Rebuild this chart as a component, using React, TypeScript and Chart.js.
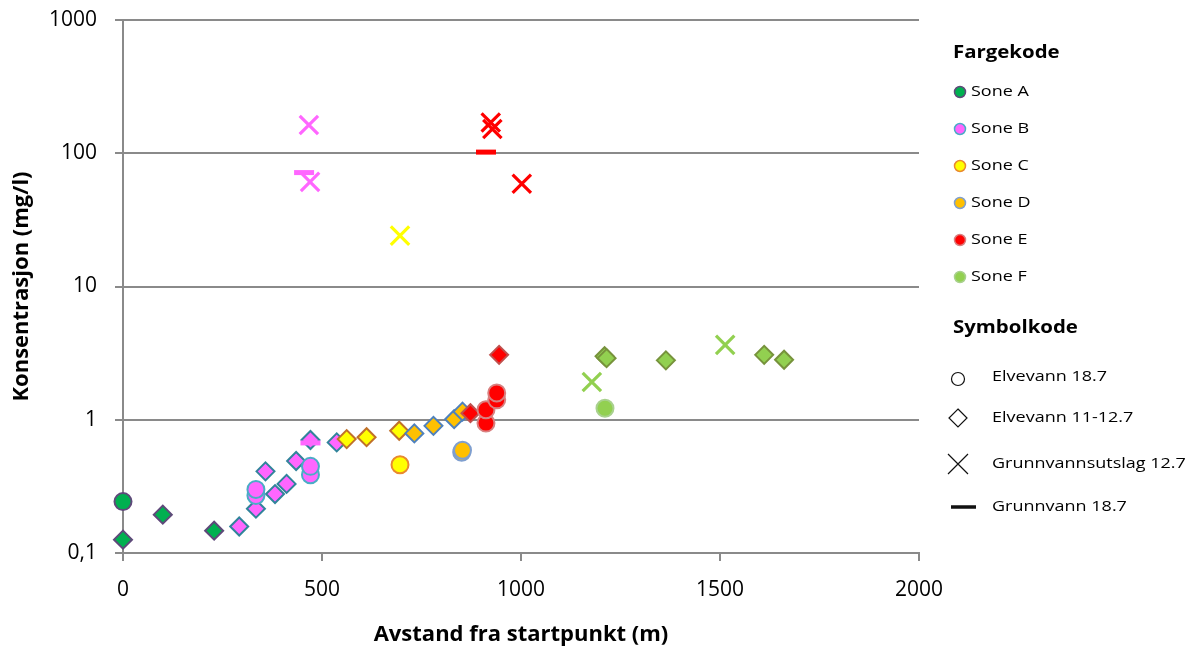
import React, { useEffect, useRef } from 'react';
import { Chart, registerables } from 'chart.js';

Chart.register(...registerables);

// ---- axis ticks ----
const xTickValues = [0, 500, 1000, 1500, 2000];
const xTickLabels = ['0', '500', '1000', '1500', '2000'];
const yTickValues = [0.1, 1, 10, 100, 1000];
const yTickLabels = ['0,1', '1', '10', '100', '1000'];

// ---- zones ----
const zoneNames = ['Sone A', 'Sone B', 'Sone C', 'Sone D', 'Sone E', 'Sone F'];
const zoneFill = ['#00B050', '#FF66FF', '#FFFF00', '#FFC000', '#FF0000', '#92D050'];
const zoneDiamondBorder = ['#5F497A', '#31849B', '#C0712A', '#4F81BD', '#C0504D', '#77933C'];
const zoneCircleBorder = ['#5F497A', '#4BACC6', '#E9892F', '#7F9FCF', '#D98080', '#A9D18E'];

// ---- symbol legend ----
const symbolNames = ['Elvevann 18.7', 'Elvevann 11-12.7', 'Grunnvannsutslag 12.7', 'Grunnvann 18.7'];

// ---- data: Sone A ----
const soneACircleX = [0];
const soneACircleY = [0.243];
const soneADiamondX = [0, 100, 229];
const soneADiamondY = [0.126, 0.194, 0.147];
const soneACrossX: number[] = [];
const soneACrossY: number[] = [];
const soneADashX: number[] = [];
const soneADashY: number[] = [];

// ---- data: Sone B ----
const soneBCircleX = [334, 334, 471, 471];
const soneBCircleY = [0.27, 0.3, 0.387, 0.447];
const soneBDiamondX = [292, 334, 358, 382, 411, 435, 471, 537];
const soneBDiamondY = [0.158, 0.215, 0.41, 0.277, 0.33, 0.49, 0.705, 0.676];
const soneBCrossX = [467, 470];
const soneBCrossY = [163, 61];
const soneBDashX = [455, 471];
const soneBDashY = [71.6, 0.67];

// ---- data: Sone C ----
const soneCCircleX = [696];
const soneCCircleY = [0.46];
const soneCDiamondX = [562, 612, 694];
const soneCDiamondY = [0.716, 0.74, 0.827];
const soneCCrossX = [696];
const soneCCrossY = [24.1];
const soneCDashX: number[] = [];
const soneCDashY: number[] = [];

// ---- data: Sone D ----
const soneDCircleX = [851, 853];
const soneDCircleY = [0.57, 0.59];
const soneDDiamondX = [732, 780, 832, 853];
const soneDDiamondY = [0.79, 0.9, 1.01, 1.15];
const soneDCrossX: number[] = [];
const soneDCrossY: number[] = [];
const soneDDashX: number[] = [];
const soneDDashY: number[] = [];

// ---- data: Sone E ----
const soneECircleX = [912, 912, 939, 939];
const soneECircleY = [0.944, 1.19, 1.41, 1.59];
const soneEDiamondX = [873, 945];
const soneEDiamondY = [1.12, 3.07];
const soneECrossX = [924, 928, 1002];
const soneECrossY = [170, 152, 59];
const soneEDashX = [912];
const soneEDashY = [102];

// ---- data: Sone F ----
const soneFCircleX = [1211];
const soneFCircleY = [1.22];
const soneFDiamondX = [1210, 1215, 1364, 1611, 1661];
const soneFDiamondY = [3.0, 2.9, 2.79, 3.07, 2.82];
const soneFCrossX = [1178, 1513];
const soneFCrossY = [1.92, 3.65];
const soneFDashX: number[] = [];
const soneFDashY: number[] = [];

const zoneData = [
  [soneACircleX, soneACircleY, soneADiamondX, soneADiamondY, soneACrossX, soneACrossY, soneADashX, soneADashY],
  [soneBCircleX, soneBCircleY, soneBDiamondX, soneBDiamondY, soneBCrossX, soneBCrossY, soneBDashX, soneBDashY],
  [soneCCircleX, soneCCircleY, soneCDiamondX, soneCDiamondY, soneCCrossX, soneCCrossY, soneCDashX, soneCDashY],
  [soneDCircleX, soneDCircleY, soneDDiamondX, soneDDiamondY, soneDCrossX, soneDCrossY, soneDDashX, soneDDashY],
  [soneECircleX, soneECircleY, soneEDiamondX, soneEDiamondY, soneECrossX, soneECrossY, soneEDashX, soneEDashY],
  [soneFCircleX, soneFCircleY, soneFDiamondX, soneFDiamondY, soneFCrossX, soneFCrossY, soneFDashX, soneFDashY],
];

const pts = (xs: number[], ys: number[]) => xs.map((x, i) => ({ x, y: ys[i] }));

function buildDatasets() {
  const ds: any[] = [];
  zoneData.forEach((z, i) => {
    const [cx, cy, dx, dy, xx, xy, lx, ly] = z;
    ds.push({
      label: zoneNames[i] + ' diamond',
      data: pts(dx, dy),
      pointStyle: 'rectRot',
      pointRadius: 9,
      pointBorderWidth: 2,
      backgroundColor: zoneFill[i],
      borderColor: zoneDiamondBorder[i],
      clip: false,
      order: 40 - i,
    });
    ds.push({
      label: zoneNames[i] + ' circle',
      data: pts(cx, cy),
      pointStyle: 'circle',
      pointRadius: 8.5,
      pointBorderWidth: 2,
      backgroundColor: zoneFill[i],
      borderColor: zoneCircleBorder[i],
      clip: false,
      order: 30 - i,
    });
    ds.push({
      label: zoneNames[i] + ' cross',
      data: pts(xx, xy),
      pointStyle: 'crossRot',
      pointRadius: 13,
      pointBorderWidth: 3.2,
      backgroundColor: zoneFill[i],
      borderColor: zoneFill[i],
      clip: false,
      order: 20 - i,
    });
    ds.push({
      label: zoneNames[i] + ' dash',
      data: pts(lx, ly),
      pointStyle: 'line',
      pointRadius: 10,
      pointBorderWidth: 5,
      backgroundColor: zoneFill[i],
      borderColor: zoneFill[i],
      clip: false,
      order: 10 - i,
    });
  });
  return ds;
}

const legendPlugin = {
  id: 'customLegend',
  afterDraw(chart: any) {
    const ctx: CanvasRenderingContext2D = chart.ctx;
    const sx = 1.2;
    const text = (s: string, x: number, y: number, font: string) => {
      ctx.save();
      ctx.font = font;
      ctx.fillStyle = '#000';
      ctx.textBaseline = 'middle';
      ctx.textAlign = 'left';
      ctx.translate(x, y);
      ctx.scale(sx, 1);
      ctx.fillText(s, 0, 0);
      ctx.restore();
    };
    ctx.save();
    text('Fargekode', 953, 53, 'bold 17px "Open Sans"');
    zoneNames.forEach((n, i) => {
      const y = 92 + i * 37;
      ctx.beginPath();
      ctx.arc(960, y, 5.5, 0, Math.PI * 2);
      ctx.fillStyle = zoneFill[i];
      ctx.fill();
      ctx.lineWidth = 1.5;
      ctx.strokeStyle = zoneCircleBorder[i];
      ctx.stroke();
      text(n, 971, y, '15px "Open Sans"');
    });
    text('Symbolkode', 953, 328, 'bold 17px "Open Sans"');
    const sy = [377, 418, 464, 507];
    const mx = 958;
    ctx.strokeStyle = '#111';
    ctx.lineWidth = 1.2;
    // circle
    ctx.beginPath();
    ctx.arc(mx, sy[0] + 2, 6.5, 0, Math.PI * 2);
    ctx.stroke();
    // diamond
    ctx.beginPath();
    ctx.moveTo(mx, sy[1] - 9);
    ctx.lineTo(mx + 9, sy[1]);
    ctx.lineTo(mx, sy[1] + 9);
    ctx.lineTo(mx - 9, sy[1]);
    ctx.closePath();
    ctx.stroke();
    // cross
    ctx.beginPath();
    ctx.moveTo(mx - 10, sy[2] - 10);
    ctx.lineTo(mx + 10, sy[2] + 10);
    ctx.moveTo(mx + 10, sy[2] - 10);
    ctx.lineTo(mx - 10, sy[2] + 10);
    ctx.stroke();
    // dash
    ctx.beginPath();
    ctx.lineWidth = 3.5;
    ctx.moveTo(951, sy[3]);
    ctx.lineTo(976, sy[3]);
    ctx.stroke();
    symbolNames.forEach((n, i) => text(n, 992, sy[i], '15px "Open Sans"'));
    ctx.restore();
  },
};

export default function App() {
  const ref = useRef<HTMLCanvasElement>(null);
  useEffect(() => {
    if (!ref.current) return;
    const gridColor = '#8A8A8A';
    const chart = new Chart(ref.current, {
      type: 'scatter',
      data: { datasets: buildDatasets() },
      options: {
        animation: false,
        responsive: false,
        devicePixelRatio: 1,
        events: [],
        layout: { padding: { left: 0, top: 20, right: 280, bottom: 0 } },
        plugins: { legend: { display: false }, tooltip: { enabled: false } },
        scales: {
          x: {
            type: 'linear',
            min: 0,
            max: 2000,
            afterBuildTicks: (scale: any) => {
              scale.ticks = xTickValues.map((v) => ({ value: v }));
            },
            afterFit: (scale: any) => {
              scale.height = 99;
              scale.paddingLeft = 0;
              scale.paddingRight = 0;
            },
            grid: { display: true, drawOnChartArea: false, drawTicks: true, tickLength: 8, color: gridColor, lineWidth: 2 },
            border: { display: true, color: gridColor, width: 2 },
            ticks: {
              color: '#000',
              font: { family: '"Open Sans"', size: 21 },
              padding: 16,
              maxRotation: 0,
              callback: (v: any) => {
                const idx = xTickValues.indexOf(Number(v));
                return idx >= 0 ? xTickLabels[idx] : '';
              },
            },
            title: {
              display: true,
              text: 'Avstand fra startpunkt (m)',
              color: '#000',
              font: { family: '"Open Sans"', size: 22, weight: 'bold' },
              padding: { top: 0, bottom: 4 },
            },
          },
          y: {
            type: 'logarithmic',
            min: 0.1,
            max: 1000,
            afterBuildTicks: (scale: any) => {
              scale.ticks = yTickValues.map((v) => ({ value: v }));
            },
            afterFit: (scale: any) => {
              scale.width = 123;
              scale.paddingTop = 0;
              scale.paddingBottom = 0;
            },
            grid: { display: true, drawOnChartArea: true, drawTicks: true, tickLength: 8, color: gridColor, lineWidth: 2 },
            border: { display: true, color: gridColor, width: 2 },
            ticks: {
              color: '#000',
              font: { family: '"Open Sans"', size: 21 },
              padding: 18,
              callback: (v: any) => {
                const idx = yTickValues.indexOf(Number(v));
                return idx >= 0 ? yTickLabels[idx] : '';
              },
            },
            title: {
              display: true,
              text: 'Konsentrasjon (mg/l)',
              color: '#000',
              font: { family: '"Open Sans"', size: 22, weight: 'bold' },
              padding: { top: 9, bottom: 0 },
            },
          },
        },
      },
      plugins: [legendPlugin],
    } as any);
    return () => chart.destroy();
  }, []);
  return (
    <div style={{ position: 'absolute', left: 0, top: 0, width: 1199, height: 652, background: '#fff' }}>
      <canvas ref={ref} width={1199} height={652} style={{ display: 'block', width: 1199, height: 652 }} />
    </div>
  );
}
